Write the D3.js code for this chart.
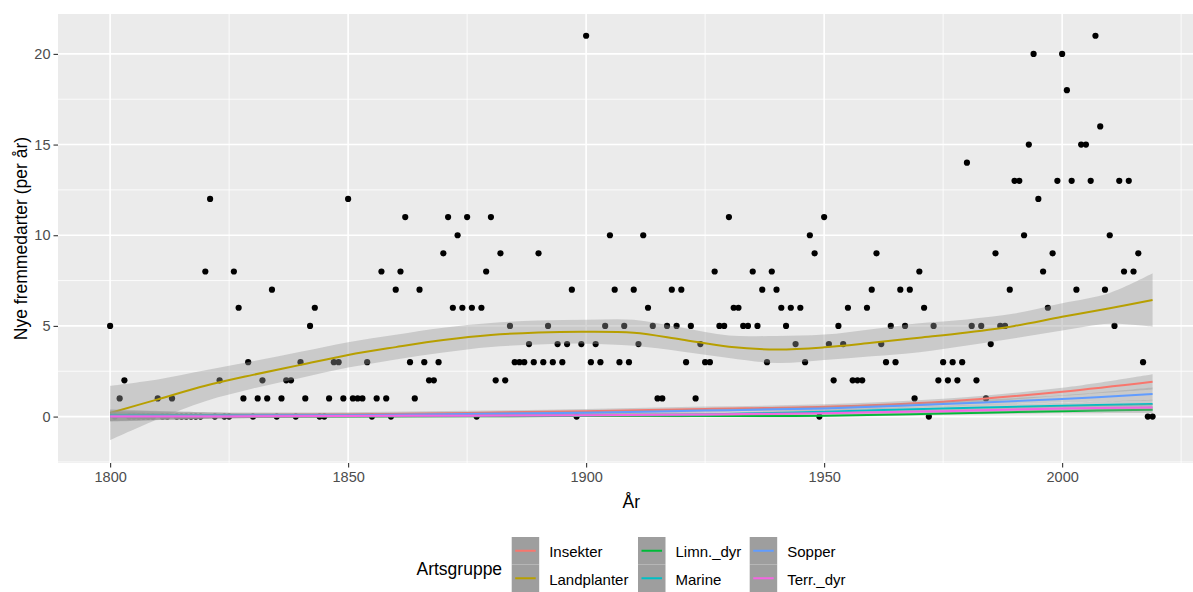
<!DOCTYPE html>
<html>
<head>
<meta charset="utf-8">
<script src="https://cdn.jsdelivr.net/npm/d3@7"></script>
<style>
  body { margin: 0; background: #fff; }
  text { font-family: "Liberation Sans", Arial, sans-serif; }
</style>
</head>
<body>
<svg id="chart" width="1193" height="592"></svg>
<script>
// new alien species per year, 1800..2019 (one value per year)
var firstYear = 1800;
var counts = [
  5, 0, 1, 2, 0, 0, 0, 0, 0, 0,      // 1800s
  1, 0, 0, 1, 0, 0, 0, 0, 0, 0,      // 1810s
  8, 12, 0, 2, 0, 0, 8, 6, 1, 3,     // 1820s
  0, 1, 2, 1, 7, 0, 1, 2, 2, 0,      // 1830s
  3, 1, 5, 6, 0, 0, 1, 3, 3, 1,      // 1840s
  12, 1, 1, 1, 3, 0, 1, 8, 1, 0,     // 1850s
  7, 8, 11, 3, 1, 7, 3, 2, 2, 3,     // 1860s
  9, 11, 6, 10, 6, 11, 6, 0, 6, 8,   // 1870s
  11, 2, 9, 2, 5, 3, 3, 3, 4, 3,     // 1880s
  9, 3, 5, 3, 4, 3, 4, 7, 0, 4,      // 1890s
  21, 3, 4, 3, 5, 10, 7, 3, 5, 3,    // 1900s
  7, 4, 10, 6, 5, 1, 1, 5, 7, 5,     // 1910s
  7, 3, 5, 1, 4, 3, 3, 8, 5, 5,      // 1920s
  11, 6, 6, 5, 5, 8, 5, 7, 3, 8,     // 1930s
  7, 6, 5, 6, 4, 6, 3, 10, 9, 0,     // 1940s
  11, 4, 2, 5, 4, 6, 2, 2, 2, 6,     // 1950s
  7, 9, 4, 3, 5, 3, 7, 5, 7, 1,      // 1960s
  8, 6, 0, 5, 2, 3, 2, 3, 2, 3,      // 1970s
  14, 5, 2, 5, 1, 4, 9, 5, 5, 7,     // 1980s
  13, 13, 10, 15, 20, 12, 8, 6, 9, 13, // 1990s
  20, 18, 13, 7, 15, 15, 13, 21, 16, 7, // 2000s
  10, 5, 13, 8, 13, 8, 9, 3, 0, 0    // 2010s
];

// loess fit for Landplanter
var landYears = [1800, 1810, 1820, 1830, 1840, 1850, 1860, 1870, 1880, 1890, 1900, 1910,
                 1920, 1930, 1940, 1950, 1960, 1970, 1980, 1990, 2000, 2010, 2019];
var landFit = [0.2, 0.95, 1.7, 2.3, 2.85, 3.4, 3.83, 4.22, 4.5, 4.64, 4.68, 4.62,
               4.25, 3.85, 3.7, 3.82, 4.07, 4.35, 4.64, 5.0, 5.5, 5.97, 6.43];
var landSe = [1.5, 1.1, 0.85, 0.75, 0.72, 0.7, 0.68, 0.68, 0.66, 0.66, 0.66, 0.72,
              0.66, 0.62, 0.75, 0.7, 0.75, 0.8, 0.72, 0.68, 0.75, 0.85, 1.47];

// the other groups stay close to zero
var smallYears = [1800, 1825, 1850, 1875, 1900, 1925, 1950, 1975, 2000, 2019];
var insektFit = [0.05, 0.08, 0.12, 0.2, 0.3, 0.42, 0.54, 0.82, 1.37, 1.92];
var insektSe = [0.3, 0.15, 0.12, 0.12, 0.12, 0.13, 0.14, 0.16, 0.22, 0.42];
var limnFit = [0.0, 0.0, 0.01, 0.02, 0.03, 0.03, 0.05, 0.17, 0.3, 0.38];
var limnSe = [0.25, 0.1, 0.06, 0.06, 0.06, 0.06, 0.07, 0.08, 0.12, 0.18];
var marineFit = [0.1, 0.07, 0.05, 0.06, 0.08, 0.12, 0.27, 0.45, 0.6, 0.69];
var marineSe = [0.3, 0.13, 0.1, 0.1, 0.1, 0.1, 0.1, 0.12, 0.16, 0.24];
var sopperFit = [0.02, 0.05, 0.08, 0.14, 0.21, 0.33, 0.45, 0.69, 0.97, 1.24];
var sopperSe = [0.3, 0.14, 0.11, 0.1, 0.1, 0.1, 0.12, 0.14, 0.2, 0.36];
var terrFit = [0.0, 0.01, 0.03, 0.05, 0.08, 0.12, 0.18, 0.3, 0.45, 0.5];
var terrSe = [0.25, 0.1, 0.08, 0.08, 0.08, 0.08, 0.08, 0.1, 0.14, 0.2];

var groupNames = ["Insekter", "Landplanter", "Limn._dyr", "Marine", "Sopper", "Terr._dyr"];
var groupColors = ["#F8766D", "#B79F00", "#00BA38", "#00BFC4", "#619CFF", "#F564E3"];

var xMajor = [1800, 1850, 1900, 1950, 2000];
var xMinor = [1825, 1875, 1925, 1975, 2025];
var yMajor = [0, 5, 10, 15, 20];
var yMinor = [-2.5, 2.5, 7.5, 12.5, 17.5];

// ---------------------------------------------------------------
var panel = {left: 58, top: 14, right: 1204.7, bottom: 463};

var svg = d3.select("#chart");

var xScale = d3.scaleLinear().domain([1789.05, 2029.95]).range([panel.left, panel.right]);
var yScale = d3.scaleLinear().domain([-2.56, 22.2]).range([panel.bottom, panel.top]);

svg.append("rect").attr("width", 1193).attr("height", 592).attr("fill", "#fff");

svg.append("defs").append("clipPath").attr("id", "clip")
  .append("rect")
  .attr("x", panel.left).attr("y", panel.top)
  .attr("width", panel.right - panel.left).attr("height", panel.bottom - panel.top);

svg.append("rect")
  .attr("x", panel.left).attr("y", panel.top)
  .attr("width", panel.right - panel.left).attr("height", panel.bottom - panel.top)
  .attr("fill", "#EBEBEB");

var grid = svg.append("g").attr("clip-path", "url(#clip)");

// minor grid
grid.selectAll("line.xminor").data(xMinor).enter().append("line")
  .attr("x1", d => xScale(d)).attr("x2", d => xScale(d))
  .attr("y1", panel.top).attr("y2", panel.bottom)
  .attr("stroke", "#fff").attr("stroke-width", 0.8);
grid.selectAll("line.yminor").data(yMinor).enter().append("line")
  .attr("y1", d => yScale(d)).attr("y2", d => yScale(d))
  .attr("x1", panel.left).attr("x2", panel.right)
  .attr("stroke", "#fff").attr("stroke-width", 0.8);
// major grid
grid.selectAll("line.xmajor").data(xMajor).enter().append("line")
  .attr("x1", d => xScale(d)).attr("x2", d => xScale(d))
  .attr("y1", panel.top).attr("y2", panel.bottom)
  .attr("stroke", "#fff").attr("stroke-width", 1.6);
grid.selectAll("line.ymajor").data(yMajor).enter().append("line")
  .attr("y1", d => yScale(d)).attr("y2", d => yScale(d))
  .attr("x1", panel.left).attr("x2", panel.right)
  .attr("stroke", "#fff").attr("stroke-width", 1.6);

var plot = svg.append("g").attr("clip-path", "url(#clip)");

// points
var pointData = counts.map((c, i) => ({year: firstYear + i, n: c}));
plot.selectAll("circle").data(pointData).enter().append("circle")
  .attr("cx", d => xScale(d.year))
  .attr("cy", d => yScale(d.n))
  .attr("r", 3.1)
  .attr("fill", "#000");

// smooth layers in legend order
function makeRows(yrs, fit, se) {
  return yrs.map((yr, i) => ({x: yr, fit: fit[i], lo: fit[i] - se[i], hi: fit[i] + se[i]}));
}
var smooths = [
  makeRows(smallYears, insektFit, insektSe),
  makeRows(landYears, landFit, landSe),
  makeRows(smallYears, limnFit, limnSe),
  makeRows(smallYears, marineFit, marineSe),
  makeRows(smallYears, sopperFit, sopperSe),
  makeRows(smallYears, terrFit, terrSe)
];

var area = d3.area()
  .x(d => xScale(d.x))
  .y0(d => yScale(d.lo))
  .y1(d => yScale(d.hi))
  .curve(d3.curveCatmullRom.alpha(0.5));
var line = d3.line()
  .x(d => xScale(d.x))
  .y(d => yScale(d.fit))
  .curve(d3.curveCatmullRom.alpha(0.5));

smooths.forEach(function(rows, i) {
  plot.append("path").datum(rows)
    .attr("d", area)
    .attr("fill", "#999999")
    .attr("fill-opacity", 0.4);
  plot.append("path").datum(rows)
    .attr("d", line)
    .attr("fill", "none")
    .attr("stroke", groupColors[i])
    .attr("stroke-width", 2);
});

// axes
var xAxis = svg.append("g")
  .attr("transform", `translate(0, ${panel.bottom})`)
  .call(d3.axisBottom(xScale).tickValues(xMajor).tickSize(4.5).tickPadding(4).tickFormat(d3.format("d")));
var yAxis = svg.append("g")
  .attr("transform", `translate(${panel.left}, 0)`)
  .call(d3.axisLeft(yScale).tickValues(yMajor).tickSize(4.5).tickPadding(3));

[xAxis, yAxis].forEach(function(ax) {
  ax.select(".domain").remove();
  ax.selectAll("line").attr("stroke", "#333333").attr("stroke-width", 1.1);
  ax.selectAll("text")
    .attr("fill", "#4D4D4D")
    .style("font-size", "14.5px")
    .style("font-family", "'Liberation Sans', Arial, sans-serif");
});

// axis titles
svg.append("text")
  .attr("x", (panel.left + panel.right) / 2)
  .attr("y", 507.5)
  .attr("text-anchor", "middle")
  .style("font-size", "17.5px")
  .attr("fill", "#000")
  .text("År");

svg.append("text")
  .attr("transform", `translate(26.5, ${(panel.top + panel.bottom) / 2}) rotate(-90)`)
  .attr("text-anchor", "middle")
  .style("font-size", "17.5px")
  .attr("fill", "#000")
  .text("Nye fremmedarter (per år)");

// legend
var legend = svg.append("g");
legend.append("text")
  .attr("x", 416.5).attr("y", 575)
  .style("font-size", "17.5px")
  .attr("fill", "#000")
  .text("Artsgruppe");

var colX = [511.7, 638, 749.7];
var rowY = [537, 564.5];
var keySize = 27.5;

groupNames.forEach(function(name, i) {
  var cx = colX[Math.floor(i / 2)];
  var ry = rowY[i % 2];
  var key = legend.append("g");
  key.append("rect")
    .attr("x", cx).attr("y", ry)
    .attr("width", keySize).attr("height", keySize)
    .attr("fill", "#9E9E9E");
  key.append("line")
    .attr("x1", cx + 3.5).attr("x2", cx + keySize - 3.5)
    .attr("y1", ry + keySize / 2).attr("y2", ry + keySize / 2)
    .attr("stroke", groupColors[i]).attr("stroke-width", 2);
  legend.append("text")
    .attr("x", cx + 37.5).attr("y", ry + keySize / 2 + 6.5)
    .style("font-size", "15px")
    .attr("fill", "#000")
    .text(name);
});
</script>
</body>
</html>
